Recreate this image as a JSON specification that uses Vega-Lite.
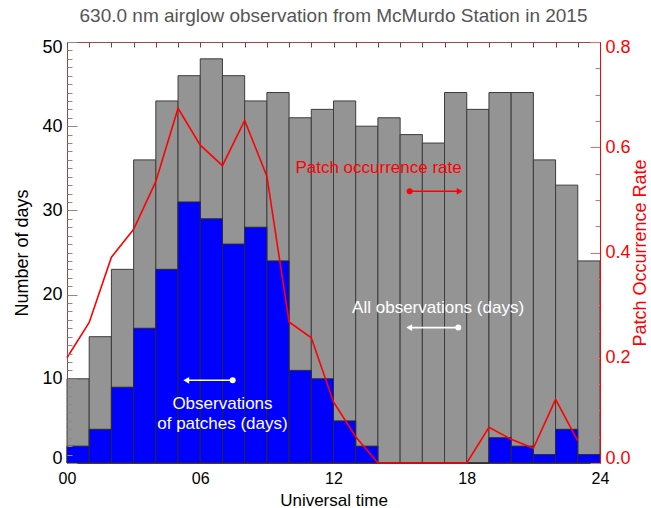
{
  "$schema": "https://vega.github.io/schema/vega-lite/v6.json",
  "width": 533,
  "height": 421,
  "autosize": {"type": "none"},
  "padding": {"left": 67, "top": 42, "right": 51, "bottom": 45},
  "background": "white",
  "config": {
    "font": "Liberation Sans",
    "view": {"stroke": "#a04545", "strokeWidth": 1},
    "axis": {"grid": false}
  },
  "title": {
    "text": "630.0 nm airglow observation from McMurdo Station in 2015",
    "fontSize": 19,
    "fontWeight": "normal",
    "color": "#555555",
    "offset": 12,
    "anchor": "middle"
  },
  "datasets": {
    "hours": [
      {"hour": 0, "hour_end": 1, "all": 10, "patches": 2, "rate": 0.2},
      {"hour": 1, "hour_end": 2, "all": 15, "patches": 4, "rate": 0.267},
      {"hour": 2, "hour_end": 3, "all": 23, "patches": 9, "rate": 0.391},
      {"hour": 3, "hour_end": 4, "all": 36, "patches": 16, "rate": 0.444},
      {"hour": 4, "hour_end": 5, "all": 43, "patches": 23, "rate": 0.535},
      {"hour": 5, "hour_end": 6, "all": 46, "patches": 31, "rate": 0.674},
      {"hour": 6, "hour_end": 7, "all": 48, "patches": 29, "rate": 0.604},
      {"hour": 7, "hour_end": 8, "all": 46, "patches": 26, "rate": 0.565},
      {"hour": 8, "hour_end": 9, "all": 43, "patches": 28, "rate": 0.651},
      {"hour": 9, "hour_end": 10, "all": 44, "patches": 24, "rate": 0.545},
      {"hour": 10, "hour_end": 11, "all": 41, "patches": 11, "rate": 0.268},
      {"hour": 11, "hour_end": 12, "all": 42, "patches": 10, "rate": 0.238},
      {"hour": 12, "hour_end": 13, "all": 43, "patches": 5, "rate": 0.116},
      {"hour": 13, "hour_end": 14, "all": 40, "patches": 2, "rate": 0.05},
      {"hour": 14, "hour_end": 15, "all": 41, "patches": 0, "rate": 0},
      {"hour": 15, "hour_end": 16, "all": 39, "patches": 0, "rate": 0},
      {"hour": 16, "hour_end": 17, "all": 38, "patches": 0, "rate": 0},
      {"hour": 17, "hour_end": 18, "all": 44, "patches": 0, "rate": 0},
      {"hour": 18, "hour_end": 19, "all": 42, "patches": 0, "rate": 0},
      {"hour": 19, "hour_end": 20, "all": 44, "patches": 3, "rate": 0.068},
      {"hour": 20, "hour_end": 21, "all": 44, "patches": 2, "rate": 0.045},
      {"hour": 21, "hour_end": 22, "all": 36, "patches": 1, "rate": 0.028},
      {"hour": 22, "hour_end": 23, "all": 33, "patches": 4, "rate": 0.121},
      {"hour": 23, "hour_end": 24, "all": 24, "patches": 1, "rate": 0.042}
    ],
    "notes": [
      {"note": "Patch occurrence rate", "x": 14.03, "y": 35.0, "kind": "rate"},
      {"note": "All observations (days)", "x": 16.71, "y": 18.4, "kind": "all"},
      {"note": "Observations", "x": 7.0, "y": 6.97, "kind": "patches"},
      {"note": "of patches (days)", "x": 7.0, "y": 4.6, "kind": "patches"}
    ],
    "arrows": [
      {"kind": "rate", "start": 15.43, "end": 17.68, "y": 32.27},
      {"kind": "all", "start": 17.62, "end": 15.41, "y": 16.08},
      {"kind": "patches", "start": 7.46, "end": 5.37, "y": 9.82}
    ]
  },
  "layer": [
    {
      "data": {"name": "hours"},
      "mark": {"type": "rect", "fill": "#949494", "stroke": "#3c3c3c", "strokeWidth": 1},
      "encoding": {
        "x": {
          "field": "hour", "type": "quantitative",
          "scale": {"domain": [0, 24], "nice": false, "zero": false},
          "axis": {
            "orient": "bottom", "values": [0, 6, 12, 18, 24], "format": "02d",
            "ticks": false, "domain": false, "labelFlush": false,
            "labelFontSize": 16, "labelColor": "black", "labelPadding": 7,
            "title": "Universal time", "titleFontSize": 17, "titleFontWeight": "normal",
            "titleColor": "black", "titlePadding": 6
          }
        },
        "x2": {"field": "hour_end"},
        "y": {
          "field": "all", "type": "quantitative",
          "scale": {"domain": [0, 50], "nice": false},
          "axis": {
            "orient": "left",
            "values": [0,1,2,3,4,5,6,7,8,9,10,11,12,13,14,15,16,17,18,19,20,21,22,23,24,25,26,27,28,29,30,31,32,33,34,35,36,37,38,39,40,41,42,43,44,45,46,47,48,49,50],
            "labelExpr": "datum.value % 10 === 0 ? datum.label : ''",
            "tickSize": {"condition": {"test": "datum.value % 10 === 0", "value": -10}, "value": -5},
            "tickColor": "#8a8a8a", "domain": false, "labelFlush": true, "labelFlushOffset": 4, "labelOverlap": false,
            "labelFontSize": 18, "labelColor": "black", "labelPadding": 15,
            "title": "Number of days", "titleFontSize": 18, "titleFontWeight": "normal",
            "titleColor": "black", "titlePadding": 10, "zindex": 1
          }
        },
        "y2": {"datum": 0}
      }
    },
    {
      "data": {"name": "hours"},
      "mark": {"type": "rect", "fill": "#0000ff", "stroke": "#2a2a2a", "strokeWidth": 1},
      "encoding": {
        "x": {"field": "hour", "type": "quantitative", "scale": {"domain": [0, 24], "nice": false, "zero": false}, "axis": null},
        "x2": {"field": "hour_end"},
        "y": {"field": "patches", "type": "quantitative", "scale": {"domain": [0, 50], "nice": false}, "axis": null},
        "y2": {"datum": 0}
      }
    },
    {
      "data": {"name": "arrows"},
      "mark": {"type": "rule", "strokeWidth": 1.6},
      "encoding": {
        "x": {"field": "start", "type": "quantitative", "scale": {"domain": [0, 24], "nice": false, "zero": false}, "axis": null},
        "x2": {"field": "end"},
        "y": {"field": "y", "type": "quantitative", "scale": {"domain": [0, 50], "nice": false}, "axis": null},
        "color": {"field": "kind", "type": "nominal", "scale": {"domain": ["rate", "all", "patches"], "range": ["#ff0000", "#ffffff", "#ffffff"]}, "legend": null}
      }
    },
    {
      "data": {"name": "arrows"},
      "mark": {"type": "point", "filled": true, "opacity": 1, "size": 36, "shape": "circle"},
      "encoding": {
        "x": {"field": "start", "type": "quantitative", "scale": {"domain": [0, 24], "nice": false, "zero": false}, "axis": null},
        "y": {"field": "y", "type": "quantitative", "scale": {"domain": [0, 50], "nice": false}, "axis": null},
        "color": {"field": "kind", "type": "nominal", "scale": {"domain": ["rate", "all", "patches"], "range": ["#ff0000", "#ffffff", "#ffffff"]}, "legend": null}
      }
    },
    {
      "data": {"name": "arrows"},
      "mark": {"type": "point", "filled": true, "opacity": 1, "size": 45},
      "encoding": {
        "x": {"field": "end", "type": "quantitative", "scale": {"domain": [0, 24], "nice": false, "zero": false}, "axis": null},
        "y": {"field": "y", "type": "quantitative", "scale": {"domain": [0, 50], "nice": false}, "axis": null},
        "color": {"field": "kind", "type": "nominal", "scale": {"domain": ["rate", "all", "patches"], "range": ["#ff0000", "#ffffff", "#ffffff"]}, "legend": null},
        "shape": {"field": "kind", "type": "nominal", "scale": {"domain": ["rate", "all", "patches"], "range": ["triangle-right", "triangle-left", "triangle-left"]}, "legend": null}
      }
    },
    {
      "data": {"name": "notes"},
      "mark": {"type": "text", "fontSize": 17, "align": "center", "baseline": "middle"},
      "encoding": {
        "x": {"field": "x", "type": "quantitative", "scale": {"domain": [0, 24], "nice": false, "zero": false}, "axis": null},
        "y": {"field": "y", "type": "quantitative", "scale": {"domain": [0, 50], "nice": false}, "axis": null},
        "text": {"field": "note"},
        "color": {"field": "kind", "type": "nominal", "scale": {"domain": ["rate", "all", "patches"], "range": ["#ff0000", "#ffffff", "#ffffff"]}, "legend": null}
      }
    },
    {
      "data": {"name": "hours"},
      "mark": {"type": "line", "color": "#ff0000", "strokeWidth": 1.6},
      "encoding": {
        "x": {
          "field": "hour", "type": "quantitative",
          "scale": {"domain": [0, 24], "nice": false, "zero": false},
          "axis": {
            "orient": "top",
            "values": [0,1,2,3,4,5,6,7,8,9,10,11,12,13,14,15,16,17,18,19,20,21,22,23,24],
            "labels": false, "domain": false, "tickSize": -5, "tickColor": "#8b3a3a",
            "title": null, "zindex": 1
          }
        },
        "y": {
          "field": "rate", "type": "quantitative",
          "scale": {"domain": [0, 0.8], "nice": false},
          "axis": {
            "orient": "right",
            "values": [0, 0.05, 0.1, 0.15, 0.2, 0.25, 0.3, 0.35, 0.4, 0.45, 0.5, 0.55, 0.6, 0.65, 0.7, 0.75, 0.8],
            "labelExpr": "round(datum.value * 100) % 20 === 0 ? format(datum.value, '.1f') : ''",
            "tickSize": {"condition": {"test": "round(datum.value * 100) % 20 === 0", "value": -10}, "value": -5},
            "tickColor": "#e07070", "domain": true, "domainColor": "#ff0000", "labelFlush": true, "labelFlushOffset": 4, "labelOverlap": false,
            "labelFontSize": 18, "labelColor": "#ff0000", "labelPadding": 15,
            "title": "Patch Occurrence Rate", "titleFontSize": 18, "titleFontWeight": "normal",
            "titleColor": "#ff0000", "titleAngle": 270, "titleBaseline": "top", "titlePadding": 1, "zindex": 1
          }
        }
      }
    }
  ],
  "resolve": {"scale": {"y": "independent"}, "axis": {"x": "independent"}}
}
